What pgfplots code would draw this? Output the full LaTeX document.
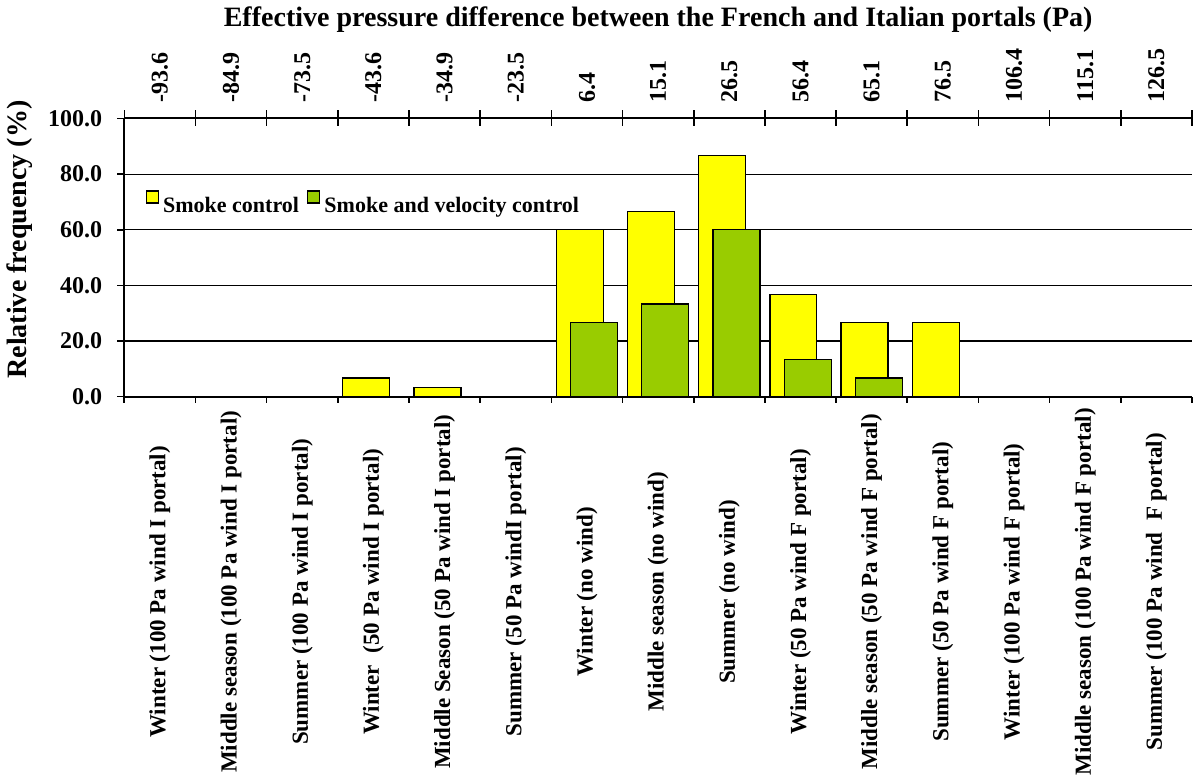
\documentclass[border=0pt]{standalone}
\usepackage{fontspec}
\setmainfont{Liberation Serif}
\usepackage{pgfplots}
\pgfplotsset{compat=1.18}
\definecolor{smokeY}{RGB}{255,255,0}
\definecolor{smokeG}{RGB}{153,204,0}

\begin{document}
\begin{tikzpicture}
\begin{axis}[
    scale only axis,
    width=533.5pt, height=139pt,
    xmin=-0.5, xmax=14.5, ymin=0, ymax=100,
    axis x line*=bottom, axis y line*=left,
    axis line style={line width=1pt},
    ybar, bar width=0.66,
    ymajorgrids, grid style={black, line width=0.6pt},
    ytick={0,20,...,100},
    y tick label style={/pgf/number format/fixed, /pgf/number format/fixed zerofill, /pgf/number format/precision=1,
        font=\bfseries\fontsize{12}{14}\selectfont, xshift=-4pt},
    /pgf/number format/assume math mode=true,
    tick align=outside, major tick length=3.5pt, minor tick length=3pt,
    every tick/.style={black, line width=0.8pt},
    xtick={0,...,14},
    major x tick style={draw=none},
    minor xtick={-0.5,0.5,...,14.5},
    xticklabels={Winter (100 Pa wind I portal), Middle season (100 Pa wind I portal), Summer (100 Pa wind I portal),
        Winter\ \ (50 Pa wind I portal), Middle Season (50 Pa wind I portal), Summer (50 Pa windI portal),
        Winter (no wind), Middle season (no wind), Summer (no wind),
        Winter (50 Pa wind F portal), Middle season (50 Pa wind F portal), Summer (50 Pa wind F portal),
        Winter (100 Pa wind F portal), Middle season (100 Pa wind F portal), Summer (100 Pa wind\ \ F portal)},
    xticklabel style={font=\bfseries\fontsize{11.5}{13}\selectfont, anchor=center, yshift=-94pt, rotate=90},
    ylabel={Relative frequency (\%)},
    ylabel style={font=\bfseries\fontsize{14}{16}\selectfont, xshift=9pt, yshift=1pt},
    legend style={at={(0.014,0.69)}, anchor=west, draw=none, fill=none, legend columns=2,
        font=\bfseries\fontsize{11}{13}\selectfont,
        /tikz/every even column/.append style={column sep=2pt}},
]
\addplot[fill=smokeY, draw=black, line width=0.6pt, bar shift=-0.1,
    legend image code/.code={\draw[fill=smokeY, draw=black, line width=0.7pt] (-1.5pt,1.5pt) rectangle (4.5pt,7.5pt);}]
    coordinates {(3,6.7) (4,3.3) (6,60.0) (7,66.7) (8,86.7) (9,36.7) (10,26.7) (11,26.7)};
\addlegendentry{Smoke control}
\addplot[fill=smokeG, draw=black, line width=0.6pt, bar shift=0.1,
    legend image code/.code={\draw[fill=smokeG, draw=black, line width=0.7pt] (-1.5pt,1.5pt) rectangle (4.5pt,7.5pt);}]
    coordinates {(6,26.7) (7,33.3) (8,60.0) (9,13.3) (10,6.7)};
\addlegendentry{Smoke and velocity control}
\end{axis}
\begin{axis}[
    scale only axis,
    width=533.5pt, height=139pt,
    xmin=-0.5, xmax=14.5, ymin=0, ymax=100,
    axis x line*=top, axis y line=none,
    axis line style={line width=1pt},
    /pgf/number format/assume math mode=true,
    xtick={0,...,14},
    major x tick style={draw=none},
    minor xtick={-0.5,0.5,...,14.5},
    tick align=center, minor tick length=8pt,
    every tick/.style={black, line width=0.8pt},
    xticklabels={-93.6,-84.9,-73.5,-43.6,-34.9,-23.5,6.4,15.1,26.5,56.4,65.1,76.5,106.4,115.1,126.5},
    xticklabel style={font=\bfseries\fontsize{12}{14}\selectfont, anchor=west, rotate=90, xshift=2.5pt},
    xlabel={Effective pressure difference between the French and Italian portals (Pa)},
    xlabel style={font=\bfseries\fontsize{14}{16}\selectfont, yshift=1pt},
]
\end{axis}
\end{tikzpicture}
\end{document}
